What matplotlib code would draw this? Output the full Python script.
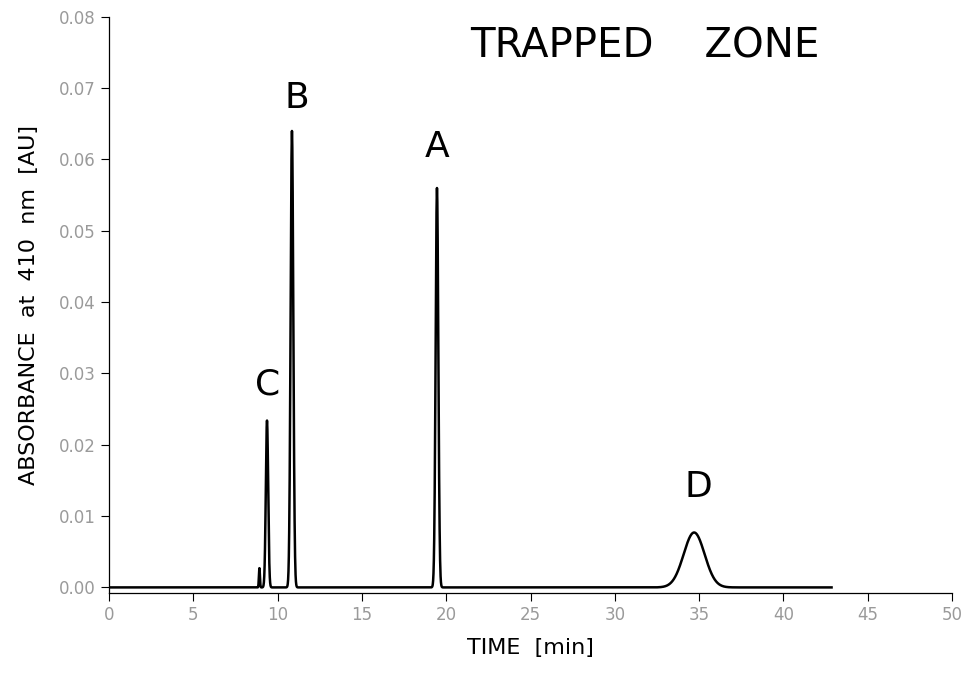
import numpy as np
import matplotlib.pyplot as plt

# peak table
peak_names = ["c0", "C", "B", "A", "D"]
peak_time = [8.92, 9.37, 10.85, 19.45, 34.7]            # min
peak_height = [0.0027, 0.0234, 0.0640, 0.0560, 0.0077]  # AU
peak_sigma = [0.03, 0.07, 0.08, 0.08, 0.62]             # min

labels = ["C", "B", "A", "D"]
label_time = [9.40, 11.15, 19.45, 34.93]
label_y = [0.0270, 0.0672, 0.0604, 0.0127]

t_end = 42.85

t = np.linspace(0, t_end, 6000)
y = np.zeros_like(t)
for t0, h, s in zip(peak_time, peak_height, peak_sigma):
    y += h * np.exp(-0.5 * ((t - t0) / s) ** 2)

fig = plt.figure(figsize=(9.68, 6.74), dpi=100)
ax = fig.add_axes([0.1126, 0.120, 0.871, 0.855])
ax.plot(t, y, color="k", lw=1.8)

ax.set_xlim(0, 50)
ax.set_ylim(-0.0008, 0.08)
ax.set_xticks(np.arange(0, 51, 5))
ax.set_yticks(np.arange(0, 0.081, 0.01))
ax.set_yticklabels(["%.2f" % v for v in np.arange(0, 0.081, 0.01)])
ax.spines["top"].set_visible(False)
ax.spines["right"].set_visible(False)
ax.tick_params(colors="k", labelcolor="#9a9a9a", labelsize=12, length=6, width=0.8)
for sp in ax.spines.values():
    sp.set_linewidth(0.9)

ax.set_xlabel("TIME  [min]", fontsize=16, labelpad=10)
ax.set_ylabel("ABSORBANCE  at  410  nm  [AU]", fontsize=16, labelpad=14)

for lab, tx, ty in zip(labels, label_time, label_y):
    ax.text(tx, ty, lab, fontsize=26, ha="center", va="baseline")

fig.text(0.4855, 0.914, "TRAPPED    ZONE", fontsize=29, ha="left", va="baseline")

fig.savefig("out.png", dpi=100)
